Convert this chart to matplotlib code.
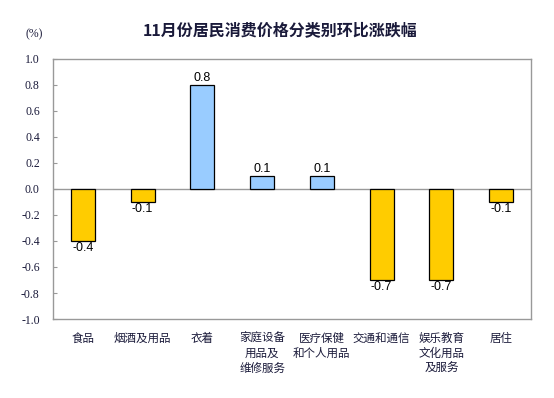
import matplotlib
matplotlib.use("Agg")
import matplotlib.pyplot as plt

categories = ["食品", "烟酒及用品", "衣着", "家庭设备\n用品及\n维修服务", "医疗保健\n和个人用品",
              "交通和通信", "娱乐教育\n文化用品\n及服务", "居住"]
values = [-0.4, -0.1, 0.8, 0.1, 0.1, -0.7, -0.7, -0.1]
yticks = [1.0, 0.8, 0.6, 0.4, 0.2, 0.0, -0.2, -0.4, -0.6, -0.8, -1.0]
title = "11月份居民消费价格分类别环比涨跌幅"

cjk = ["Noto Sans CJK SC", "DejaVu Sans"]
txtc = "#1a1a3a"

fig = plt.figure(figsize=(5.54, 3.98), dpi=100)
ax = fig.add_axes([53/554, 1-319/398, 478/554, 260/398])

x = list(range(len(values)))
colors = ["#FFCC00" if v < 0 else "#99CCFF" for v in values]
ax.bar(x, values, width=0.40, color=colors, edgecolor="black", linewidth=0.9, zorder=3)
ax.axhline(0, color="#999999", linewidth=1.0, zorder=2)

for xi, v in zip(x, values):
    if v >= 0:
        ax.text(xi, v + 0.005, f"{v:.1f}", ha="center", va="bottom",
                fontsize=9, family="Liberation Sans", color="black")
    else:
        ax.text(xi, v - 0.005, f"{v:.1f}", ha="center", va="top",
                fontsize=9, family="Liberation Sans", color="black")

ax.set_xlim(-0.5, len(values) - 0.5)
ax.set_ylim(-1.0, 1.0)
ax.set_yticks(yticks)
ax.set_yticklabels([f"{t:.1f}" for t in yticks], family="Liberation Serif", fontsize=8.5, color=txtc)
ax.tick_params(axis="y", direction="in", length=3, color="#999999", pad=9.5)
ax.set_xticks(x)
ax.set_xticklabels(categories, family=cjk, fontsize=8.3, color=txtc, linespacing=1.2, va="top")
ax.tick_params(axis="x", length=0, pad=9.5)
for s in ax.spines.values():
    s.set_color("#999999")
    s.set_linewidth(1.0)

fig.text(280/554, 1-30/398, title, ha="center", va="center", family=cjk, fontsize=11.5,
         weight="bold", color=txtc)
fig.text(34/554, 1-34/398, "(%)", ha="center", va="center", family="Liberation Serif", fontsize=8.5, color=txtc)

fig.savefig("out.png", dpi=100)
